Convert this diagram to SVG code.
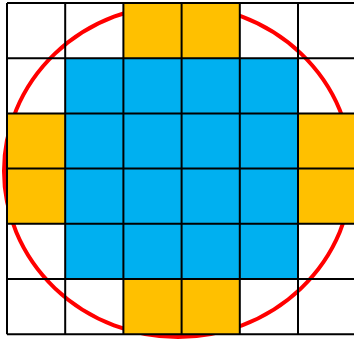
<svg xmlns="http://www.w3.org/2000/svg" width="354" height="341" viewBox="0 0 354 341">
<style>
.o{fill:#FFC000}
.b{fill:#00B0F0}
.g{stroke:#000;stroke-width:2;fill:none}
</style>
<rect width="354" height="341" fill="#fff"/>
<g id="circle"><ellipse cx="178" cy="171" rx="174" ry="166" fill="none" stroke="#FF0000" stroke-width="4"/></g>
<g id="cells">
<rect class="o" x="123.4" y="3" width="116.4" height="55.2"/>
<rect class="b" x="65.2" y="58.2" width="232.8" height="220.8"/>
<rect class="o" x="7" y="113.4" width="58.2" height="110.4"/>
<rect class="o" x="298" y="113.4" width="58.2" height="110.4"/>
<rect class="o" x="123.4" y="279" width="116.4" height="55.2"/>
</g>
<g id="grid" class="g">
<path d="M7,3V334.2M65.2,3V334.2M123.4,3V334.2M181.6,3V334.2M239.8,3V334.2M298,3V334.2M356.2,3V334.2"/>
<path d="M7,3H356M7,58.2H356M7,113.4H356M7,168.6H356M7,223.8H356M7,279H356M7,334.2H356"/>
</g>
</svg>
